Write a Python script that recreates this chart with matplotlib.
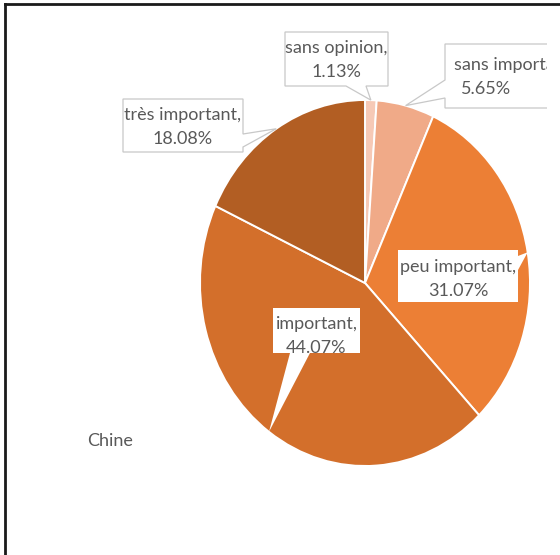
import matplotlib
matplotlib.use('Agg')
import matplotlib.pyplot as plt
import numpy as np
from matplotlib.patches import Polygon

categories = ['sans opinion', 'sans importance', 'peu important', 'important', 'très important']
values = [1.13, 5.65, 31.07, 44.07, 18.08]
colors = ['#F6C9B6', '#F0AA88', '#EC7F35', '#D36F2B', '#B25E23']
series_name = 'Chine'

W, H = 560, 555
TEXT = '#595959'
FONT = ['Lato', 'DejaVu Sans']
FS = 13

fig = plt.figure(figsize=(W / 100, H / 100), dpi=100)
fig.patch.set_facecolor('white')

# pie bounding box in pixels (slightly stretched ellipse, as in the reference)
pl, pr, pt, pb = 200, 530, 100, 466
pax = fig.add_axes([pl / W, 1 - pb / H, (pr - pl) / W, (pb - pt) / H])
pax.pie(values, colors=colors, startangle=90, counterclock=False, radius=1,
        wedgeprops=dict(edgecolor='white', linewidth=1.4))
pax.set_aspect('auto')
pax.set_xlim(-1, 1)
pax.set_ylim(-1, 1)
pax.axis('off')

# overlay axes in pixel coords, clipped at the right like the reference
clipx = 547
ax = fig.add_axes([0, 0, clipx / W, 1])
ax.set_xlim(0, clipx)
ax.set_ylim(H, 0)
ax.axis('off')

to_disp = pax.transData
from_disp = ax.transData.inverted()


def tip_for(i):
    cum = sum(values[:i]) + values[i] / 2
    th = 2 * np.pi * cum / sum(values)
    d = to_disp.transform((np.sin(th), np.cos(th)))
    return from_disp.transform(d)


# label boxes: (x0, y0, x1, y1, side, base range, outlined, text center y)
boxes = [
    (285, 32, 388, 86, 'bottom', (346, 366), True, 60),
    (445, 44, 620, 108, 'left', (80, 98), True, 77),
    (398, 250, 518, 302, 'right', (256, 270), False, 279),
    (273, 308, 360, 353, 'bottom', (290, 310), False, 336),
    (123, 99, 243, 152, 'right', (134, 147), True, 127),
]


def callout(x0, y0, x1, y1, side, base, tip):
    b1, b2 = base
    if side == 'bottom':
        pts = [(x0, y0), (x1, y0), (x1, y1), (b2, y1), tuple(tip), (b1, y1), (x0, y1)]
    elif side == 'left':
        pts = [(x0, y0), (x1, y0), (x1, y1), (x0, y1), (x0, b2), tuple(tip), (x0, b1)]
    else:  # right
        pts = [(x0, y0), (x1, y0), (x1, b1), tuple(tip), (x1, b2), (x1, y1), (x0, y1)]
    return pts


for i, (cat, val) in enumerate(zip(categories, values)):
    x0, y0, x1, y1, side, base, outlined, cy = boxes[i]
    tip = tip_for(i)
    poly = Polygon(callout(x0, y0, x1, y1, side, base, tip), closed=True,
                   facecolor='white', edgecolor='#C8C8C8' if outlined else 'none',
                   linewidth=0.9, zorder=3, clip_on=True)
    ax.add_patch(poly)
    l1 = f'{cat},'
    l2 = f'{val:.2f}%'
    if i == 1:
        ax.text(454, cy - 12, l1, ha='left', va='center', fontsize=FS, color=TEXT,
                family=FONT, zorder=4, clip_on=True)
        ax.text(486, cy + 12, l2, ha='center', va='center', fontsize=FS, color=TEXT,
                family=FONT, zorder=4, clip_on=True)
    else:
        xc = (x0 + x1) / 2
        ax.text(xc, cy - 12, l1, ha='center', va='center', fontsize=FS, color=TEXT,
                family=FONT, zorder=4)
        ax.text(xc, cy + 12, l2, ha='center', va='center', fontsize=FS, color=TEXT,
                family=FONT, zorder=4)

ax.text(87, 441, series_name, ha='left', va='center', fontsize=FS, color=TEXT, family=FONT)

# outer frame (top and left edges visible in the crop)
fig.add_artist(plt.Line2D([5 / W, 5 / W], [0, 1 - 4 / H], color='#1a1a1a', lw=2.0,
                          transform=fig.transFigure))
fig.add_artist(plt.Line2D([5 / W, 1], [1 - 4 / H, 1 - 4 / H], color='#1a1a1a', lw=2.0,
                          transform=fig.transFigure))

fig.savefig('out.png', dpi=100, facecolor='white')
